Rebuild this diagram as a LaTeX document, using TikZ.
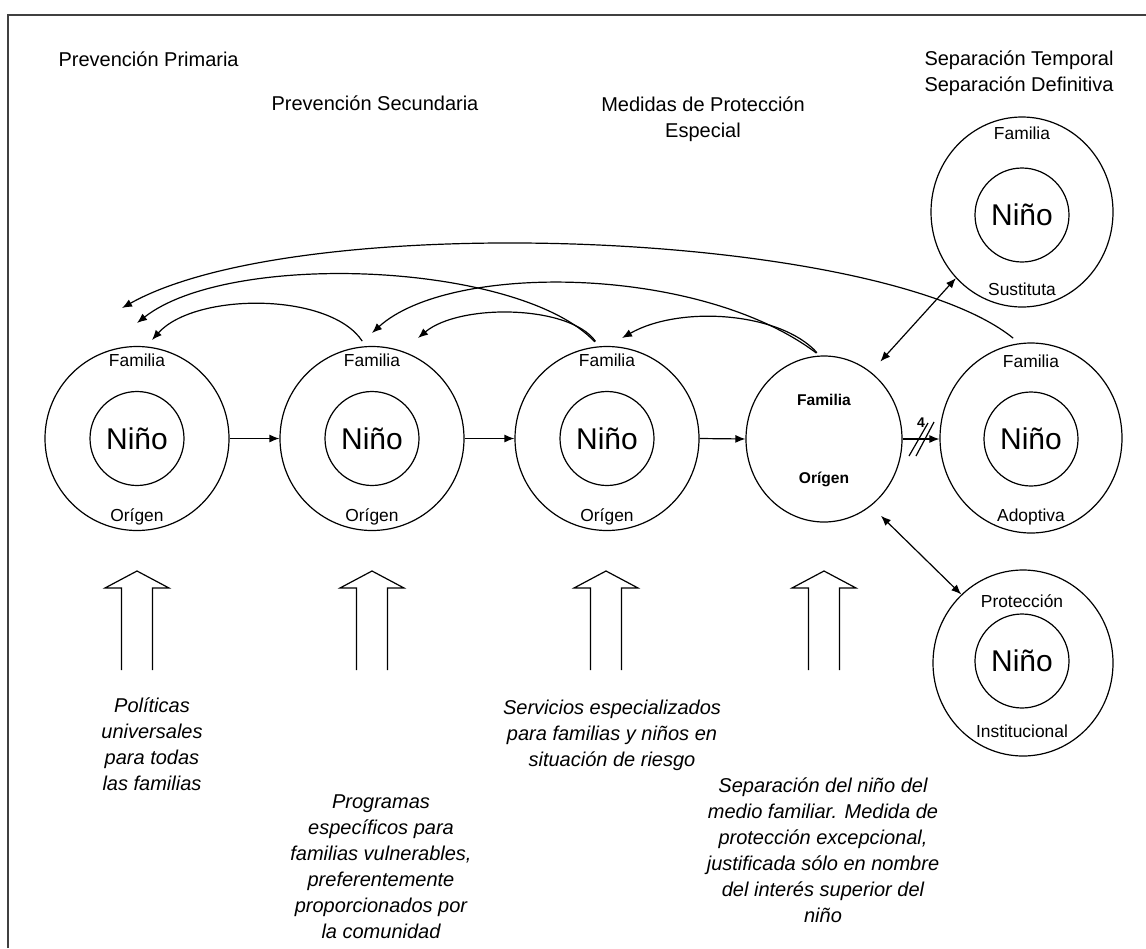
\documentclass[tikz,border=0pt]{standalone}
\usepackage{fontspec}
\setmainfont{Liberation Sans}
\usetikzlibrary{arrows.meta,shapes.geometric}

\begin{document}
\begin{tikzpicture}[x=0.5pt,y=-0.5pt,line width=0.6pt,
    familia/.style={draw,circle,minimum size=92pt,inner sep=0pt},
    separada/.style={draw,ellipse,minimum width=91pt,minimum height=95pt,inner sep=0pt},
    nino/.style={draw,circle,minimum size=47pt,inner sep=0pt,font=\fontsize{15}{18}\selectfont},
    etiq/.style={inner sep=0pt,font=\fontsize{8.7}{10}\selectfont},
    etiqb/.style={inner sep=0pt,font=\bfseries\fontsize{7.8}{9}\selectfont},
    titulo/.style={inner sep=0pt,align=center,font=\fontsize{10}{13}\selectfont},
    nota/.style={inner sep=0pt,align=center,font=\itshape\fontsize{10}{13}\selectfont},
    flecha/.style={-{Latex[length=5pt,width=4pt]}},
    doble/.style={{Latex[length=5pt,width=4pt]}-{Latex[length=5pt,width=4pt]}}]
  \useasboundingbox (0,0) rectangle (1146,948);
  \draw[line width=0.8pt,black!75] (8,948) -- (8,15) -- (1146,15);

  % titulos
  \node[titulo,anchor=base west] (prim) at (58,66) {Prevención Primaria};
  \node[titulo,anchor=base west] (secu) at (271,110) {Prevención Secundaria};
  \node[titulo] (espe) at (703,119) {Medidas de Protección\\Especial};
  \node[titulo] (sepa) at (1019,73) {Separación Temporal\\Separación Definitiva};

  % familias de origen
  \node[familia] (orig1) at (137,438.5) {};
  \node[nino] (nino1) at (137,438.5) {Niño};
  \node[etiq] (fam1) at (137,360) {Familia};
  \node[etiq] (ori1) at (137,517) {Orígen};
  \node[familia] (orig2) at (372,438.5) {};
  \node[nino] (nino2) at (372,438.5) {Niño};
  \node[etiq] (fam2) at (372,360) {Familia};
  \node[etiq] (ori2) at (372,517) {Orígen};
  \node[familia] (orig3) at (607,438.5) {};
  \node[nino] (nino3) at (607,438.5) {Niño};
  \node[etiq] (fam3) at (607,360) {Familia};
  \node[etiq] (ori3) at (607,517) {Orígen};
  \node[draw,ellipse,minimum width=78pt,minimum height=83pt,inner sep=0pt] (orig4) at (824,439) {};
  \node[etiqb] (fam4) at (824,400) {Familia};
  \node[etiqb] (ori4) at (824,479) {Orígen};

  % separacion
  \node[separada] (sust) at (1022,212) {};
  \node[nino] (nino5) at (1022,215) {Niño};
  \node[etiq] (fam5) at (1022,133) {Familia};
  \node[etiq] (sus5) at (1022,289) {Sustituta};
  \node[separada] (adop) at (1031,438) {};
  \node[nino] (nino6) at (1031,439) {Niño};
  \node[etiq] (fam6) at (1031,361) {Familia};
  \node[etiq] (ado6) at (1031,517) {Adoptiva};
  \node[separada,minimum width=90pt,minimum height=93pt] (prot) at (1023,663) {};
  \node[nino] (nino7) at (1022,661) {Niño};
  \node[etiq] (pro7) at (1022,601) {Protección};
  \node[etiq] (ins7) at (1022,731) {Institucional};

  % flechas horizontales
  \draw[flecha] (orig1) -- (orig2);
  \draw[flecha] (orig2) -- (orig3);
  \draw[flecha] (orig3.east) -- (orig4.west);
  \draw[flecha] (orig4.east) -- (adop.west |- orig4.east);
  \node[inner sep=0pt,font=\bfseries\fontsize{7}{8}\selectfont] (cuatro) at (921,423) {4};
  \draw (909,456) -- (928,423);
  \draw (916,456) -- (934,422);
  \draw[doble,shorten <=7pt] (orig4.55) -- (sust.225);
  \draw[doble,shorten <=7pt] (orig4.-55) -- (prot.132);

  % regresos
  \coordinate (p1a) at (152,340);
  \coordinate (p1b) at (137,323);
  \coordinate (p1c) at (122,308);
  \coordinate (p2a) at (418,338);
  \coordinate (p2b) at (372,333);
  \coordinate (p3a) at (622,338);
  \draw[flecha,shorten <=3pt] (orig2.94) .. controls (330,292) and (195,292) .. (p1a);
  \draw[flecha,shorten <=3pt] (orig3.95) .. controls (520,262) and (230,250) .. (p1b);
  \draw[flecha,shorten <=4pt] (adop.97) .. controls (880,230) and (300,208) .. (p1c);
  \draw[flecha,shorten <=3pt] (orig3.95) .. controls (570,305) and (460,303) .. (p2a);
  \draw[flecha,shorten <=2pt] (orig4.93) .. controls (700,265) and (450,262) .. (p2b);
  \draw[flecha,shorten <=2pt] (orig4.93) .. controls (780,312) and (680,305) .. (p3a);

  % flechas huecas
  \foreach \x in {137,372,606,824}
    \draw (\x-15.5,670) -- (\x-15.5,588) -- (\x-32,588) -- (\x,571)
      -- (\x+32,588) -- (\x+15.5,588) -- (\x+15.5,670);

  % notas
  \node[nota] (polit) at (152,744) {Políticas\\universales\\para todas\\las familias};
  \node[nota] (progr) at (381,867) {Programas\\específicos para\\familias vulnerables,\\preferentemente\\proporcionados por\\la comunidad};
  \node[nota] (servi) at (612,735) {Servicios especializados\\para familias y niños en\\situación de riesgo};
  \node[nota] (separ) at (823,850) {Separación del niño del\\medio familiar. Medida de\\protección excepcional,\\justificada sólo en nombre\\del interés superior del\\niño};
\end{tikzpicture}
\end{document}
